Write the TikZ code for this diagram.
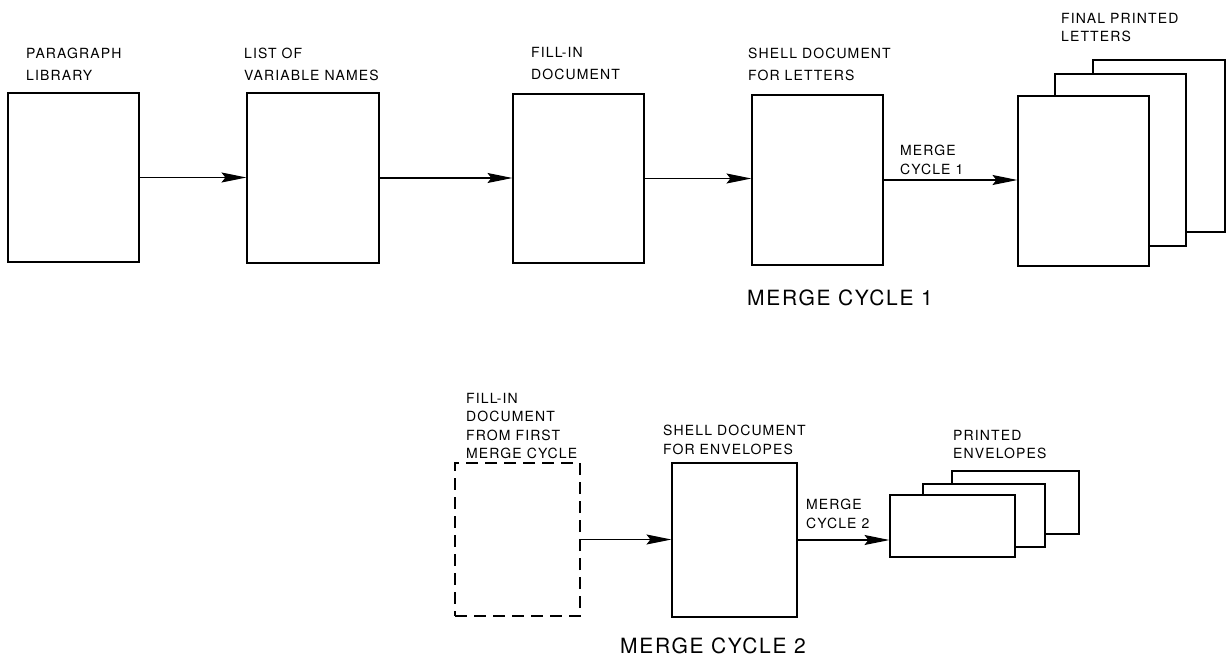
\documentclass[tikz,border=0pt]{standalone}
\usepackage{fontspec}
\setmainfont{TeX Gyre Heros}[LetterSpace=8]
\usetikzlibrary{arrows.meta}
\begin{document}
\begin{tikzpicture}[x=1pt,y=-1pt,
  pg/.style={draw, line width=1.1pt, fill=white, inner sep=0pt},
  dpg/.style={pg, dash pattern=on 12pt off 7pt},
  arr/.style={line width=1.1pt, -{Stealth[length=25pt, width=10pt, inset=4pt]}},
  lbl/.style={anchor=north west, inner sep=0pt, align=left, font=\fontsize{14}{22}\selectfont},
  lbls/.style={anchor=north west, inner sep=0pt, align=left, font=\fontsize{14}{18.5}\selectfont},
  big/.style={anchor=north west, inner sep=0pt, font=\fontsize{21}{25}\selectfont}]
\path[fill=white, use as bounding box] (0,0) rectangle (1227,664);

% top row
\node[pg, minimum width=131pt, minimum height=169pt] (b1) at (73.5,177.5) {};
\node[pg, minimum width=132pt, minimum height=170pt] (b2) at (313,178) {};
\node[pg, minimum width=131pt, minimum height=169pt] (b3) at (578.5,178.5) {};
\node[pg, minimum width=131pt, minimum height=170pt] (b4) at (817.5,180) {};
\node[pg, minimum width=132pt, minimum height=172pt] (f3) at (1159,146) {};
\node[pg, minimum width=131pt, minimum height=172pt] (f2) at (1120.5,160) {};
\node[pg, minimum width=131pt, minimum height=170pt] (f1) at (1083.5,181) {};

\draw[arr] (b1.east) -- (b1.east -| b2.west);
\draw[arr] (b2.east) -- (b2.east -| b3.west);
\draw[arr] (b3.east) -- (b3.east -| b4.west);
\draw[arr] (b4.east) -- (b4.east -| f1.west);

\node[lbl] (l1) at (26,47.5) {PARAGRAPH\\LIBRARY};
\node[lbl] (l2) at (244,47.5) {LIST OF\\VARIABLE NAMES};
\node[lbl] (l3) at (531,47.5) {FILL-IN\\DOCUMENT};
\node[lbl] (l4) at (748,47.5) {SHELL DOCUMENT\\FOR LETTERS};
\node[lbls] (l5) at (1061,12.7) {FINAL PRINTED\\LETTERS};
\node[lbls] (m1) at (900,145) {MERGE\\CYCLE 1};
\node[big] (t1) at (747,290) {MERGE CYCLE 1};

% bottom row
\node[dpg, minimum width=125pt, minimum height=153pt] (d) at (517.5,539.5) {};
\node[pg, minimum width=125pt, minimum height=154pt] (s) at (734.5,540) {};
\node[pg, minimum width=127pt, minimum height=63pt] (e3) at (1015.5,502.5) {};
\node[pg, minimum width=122pt, minimum height=63pt] (e2) at (984,515.5) {};
\node[pg, minimum width=125pt, minimum height=62pt] (e1) at (952.5,526) {};

\draw[arr] (d.east) -- (d.east -| s.west);
\draw[arr] (s.east) -- (s.east -| e1.west);

\node[lbls] (l6) at (466,393) {FILL-IN\\DOCUMENT\\FROM FIRST\\MERGE CYCLE};
\node[lbls] (l7) at (663,425) {SHELL DOCUMENT\\FOR ENVELOPES};
\node[lbls] (m2) at (806,499) {MERGE\\CYCLE 2};
\node[lbls] (l8) at (953,430) {PRINTED\\ENVELOPES};
\node[big] (t2) at (620,638) {MERGE CYCLE 2};
\end{tikzpicture}
\end{document}
